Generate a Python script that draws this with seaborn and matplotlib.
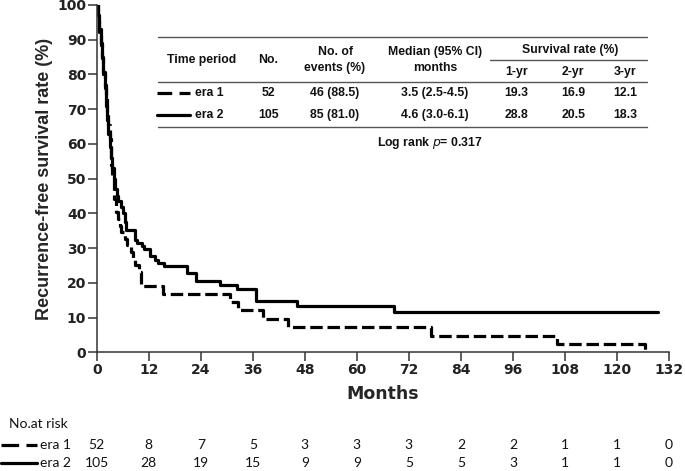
import numpy as np
import pandas as pd
import seaborn as sns
import matplotlib.pyplot as plt
from matplotlib.lines import Line2D
from matplotlib.transforms import blended_transform_factory

# Kaplan-Meier step points
era1_months = [0, 0.3, 0.6, 0.9, 1.2, 1.5, 1.8, 2.1, 2.4, 2.7, 3.0, 3.2, 3.4, 3.6,
               3.9, 4.1, 4.4, 4.8, 5.3, 5.7, 6.5, 7.1, 7.8, 8.3, 8.8, 9.7, 10.3,
               15.2, 30.8, 32.7, 38.4, 44.1, 77.2, 106.1, 126.5]
era1_surv = [100, 96.2, 92.3, 88.5, 84.6, 80.8, 76.9, 73.1, 69.2, 65.4, 61.5, 57.7,
             53.8, 50.0, 48.1, 44.2, 40.4, 38.5, 36.5, 34.6, 32.7, 30.8, 28.8, 26.9,
             25.0, 23.1, 19.2, 16.9, 14.5, 12.1, 9.7, 7.3, 4.8, 2.4, 0]

era2_months = [0, 0.3, 0.6, 0.9, 1.2, 1.5, 1.8, 2.1, 2.4, 2.7, 3.0, 3.3, 3.6, 3.9,
               4.2, 4.6, 5.0, 5.5, 6.1, 6.5, 6.8, 8.8, 9.4, 10.4, 11.0, 12.2, 13.4,
               14.2, 15.6, 20.8, 23.0, 28.4, 32.3, 36.7, 46.2, 68.5, 129.4]
era2_surv = [100, 97, 93, 89, 85, 80, 76, 71, 67, 63, 59, 56, 53, 50, 47, 45, 43.5,
             41.9, 40.0, 37.5, 35.3, 32.4, 31.4, 30.5, 29.6, 27.6, 26.7, 25.7, 24.8,
             22.8, 20.6, 19.4, 18.3, 14.8, 13.2, 11.6, 11.6]

risk_ticks = [0, 12, 24, 36, 48, 60, 72, 84, 96, 108, 120, 132]
risk_era1 = [52, 8, 7, 5, 3, 3, 3, 2, 2, 1, 1, 0]
risk_era2 = [105, 28, 19, 15, 9, 9, 5, 5, 3, 1, 1, 0]

# summary table
table_header = ["Time period", "No.", "No. of\nevents (%)", "Median (95% CI)\nmonths"]
years_header = ["1-yr", "2-yr", "3-yr"]
row_era1 = ["52", "46 (88.5)", "3.5 (2.5-4.5)", "19.3", "16.9", "12.1"]
row_era2 = ["105", "85 (81.0)", "4.6 (3.0-6.1)", "28.8", "20.5", "18.3"]

df = pd.concat([
    pd.DataFrame({"month": era1_months, "surv": era1_surv, "era": "era 1"}),
    pd.DataFrame({"month": era2_months, "surv": era2_surv, "era": "era 2"}),
])

sns.set_theme(style="ticks")
W, H = 685, 471
fig = plt.figure(figsize=(W / 100, H / 100), dpi=100)
ax = fig.add_axes([96.7 / W, 1 - 352.3 / H, (669 - 96.7) / W, (352.3 - 5) / H])

dash = (3.9, 1.5)
sns.lineplot(data=df, x="month", y="surv", hue="era", style="era",
             palette={"era 1": "black", "era 2": "black"},
             dashes={"era 1": dash, "era 2": ""},
             drawstyle="steps-post", estimator=None, sort=False,
             linewidth=2.3, legend=False, ax=ax)

ax.set_xlim(0, 132)
ax.set_ylim(0, 100)
ax.set_xticks(risk_ticks)
ax.set_yticks(range(0, 101, 10))
sns.despine(ax=ax)
for s in ["left", "bottom"]:
    ax.spines[s].set_color("#333333")
    ax.spines[s].set_linewidth(1.1)
ax.tick_params(length=6.5, width=1.1, color="#333333", pad=1,
               labelsize=10, labelcolor="#222222")
for lab in ax.get_xticklabels() + ax.get_yticklabels():
    lab.set_fontweight("bold")
ax.set_xlabel("Months", fontsize=12.5, fontweight="bold", labelpad=6)
ax.set_ylabel("Recurrence-free survival rate (%)", fontsize=13,
              fontweight="bold", family="Liberation Sans", labelpad=3)


def fx(x):
    return x / W


def fy(y):
    return 1 - y / H


def hline(x0, x1, y, **kw):
    fig.add_artist(Line2D([fx(x0), fx(x1)], [fy(y), fy(y)],
                          transform=fig.transFigure, **kw))


# table rules
rule = dict(color="#555555", linewidth=1.0)
hline(158, 647, 36.7, **rule)
hline(490, 647, 60, **rule)
hline(158, 647, 81.7, **rule)
hline(158, 647, 126.7, **rule)

tkw = dict(fontsize=8.8, fontweight="bold", family="Liberation Sans",
           ha="center", va="center", color="#111111", linespacing=1.35)
col_x = [201.7, 268.3, 335, 435]
for x, txt in zip(col_x, table_header):
    fig.text(fx(x), fy(60), txt, **tkw)
fig.text(fx(570), fy(49.5), "Survival rate (%)", **tkw)
yr_x = [516.7, 573.3, 625]
for x, txt in zip(yr_x, years_header):
    fig.text(fx(x), fy(71.7), txt, **tkw)

val_x = [268.3, 335, 435, 516.7, 573.3, 625]
for y, row in [(93.3, row_era1), (115, row_era2)]:
    for x, txt in zip(val_x, row):
        fig.text(fx(x), fy(y), txt, **tkw)

fig.add_artist(Line2D([fx(157), fx(190)], [fy(93.3)] * 2, color="black",
                      linewidth=2.3, dashes=(2.0 * 2.3, 1.0 * 2.3),
                      transform=fig.transFigure))
fig.add_artist(Line2D([fx(157), fx(190)], [fy(115)] * 2, color="black",
                      linewidth=2.3, transform=fig.transFigure))
fig.text(fx(195), fy(93.3), "era 1", **{**tkw, "ha": "left"})
fig.text(fx(195), fy(115), "era 2", **{**tkw, "ha": "left"})
fig.text(fx(430), fy(143.3), r"Log rank $\it{p}$= 0.317", **tkw)

# numbers at risk
rkw = dict(fontsize=10, family="Lato", va="center", color="#111111")
fig.text(fx(9), fy(424), "No.at risk", **rkw)
fig.add_artist(Line2D([fx(1), fx(37)], [fy(445)] * 2, color="black",
                      linewidth=2.3, dashes=(2.4 * 2.3, 1.0 * 2.3),
                      transform=fig.transFigure))
fig.add_artist(Line2D([fx(1), fx(37)], [fy(463)] * 2, color="black",
                      linewidth=2.3, transform=fig.transFigure))
fig.text(fx(40), fy(445), "era 1", **rkw)
fig.text(fx(40), fy(463), "era 2", **rkw)

trans = blended_transform_factory(ax.transData, fig.transFigure)
for t, n1, n2 in zip(risk_ticks, risk_era1, risk_era2):
    ax.text(t, fy(445), str(n1), transform=trans, ha="center",
            clip_on=False, **rkw)
    ax.text(t, fy(463), str(n2), transform=trans, ha="center",
            clip_on=False, **rkw)

fig.savefig("out.png", dpi=100)
